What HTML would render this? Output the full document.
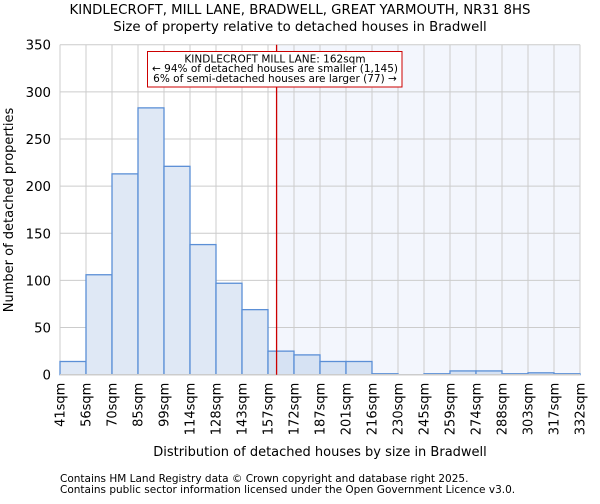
<!DOCTYPE html>
<html><head><meta charset="utf-8"><style>
body{margin:0;background:#fff;font-family:"DejaVu Sans","Liberation Sans",sans-serif;}
svg text{font-family:"DejaVu Sans","Liberation Sans",sans-serif;}
</style></head><body>
<svg id="chart" width="600" height="500" xmlns="http://www.w3.org/2000/svg">
<text x="300" y="14" text-anchor="middle" font-size="13.3">KINDLECROFT, MILL LANE, BRADWELL, GREAT YARMOUTH, NR31 8HS</text>
<text x="300" y="31" text-anchor="middle" font-size="13.3">Size of property relative to detached houses in Bradwell</text>
<g id="plot"></g>
<text x="320" y="456" text-anchor="middle" font-size="13">Distribution of detached houses by size in Bradwell</text>
<text transform="translate(13,210) rotate(-90)" text-anchor="middle" font-size="13">Number of detached properties</text>
<text x="60" y="482" font-size="10.5">Contains HM Land Registry data © Crown copyright and database right 2025.</text>
<text x="60" y="493" font-size="10.5">Contains public sector information licensed under the Open Government Licence v3.0.</text>
</svg>
<script>
const binLabels=["41sqm","56sqm","70sqm","85sqm","99sqm","114sqm","128sqm","143sqm","157sqm","172sqm","187sqm","201sqm","216sqm","230sqm","245sqm","259sqm","274sqm","288sqm","303sqm","317sqm","332sqm"];
const counts=[14,106,213,283,221,138,97,69,25,21,14,14,1,0,1,4,4,1,2,1];
const yTicks=[0,50,100,150,200,250,300,350];
const markerIndex=8.33;
const NS="http://www.w3.org/2000/svg";
const g=document.getElementById('plot');
const X0=60,X1=580,Y0=374.7,Y1=44.7,YMAX=350;
const n=counts.length;
const xs=i=>X0+(X1-X0)*i/n;
const ys=v=>Y0-(Y0-Y1)*v/YMAX;
function mk(t,a){const e=document.createElementNS(NS,t);for(const k in a)e.setAttribute(k,a[k]);g.appendChild(e);return e;}
const mx=xs(markerIndex);
let r=mk('rect',{x:mx,y:Y1,width:X1-mx,height:Y0-Y1,fill:'#f3f6fd'});


yTicks.forEach(v=>{
 let l=mk('line',{x1:X0,x2:X1,y1:ys(v),y2:ys(v),stroke:'#cccccc','stroke-width':1});
 
 
 let t=mk('text',{x:X0-9,y:ys(v)+5,'text-anchor':'end','font-size':'13.3'});
 t.textContent=v;
 
 
});
binLabels.forEach((lab,i)=>{
 let l=mk('line',{x1:xs(i),x2:xs(i),y1:Y1,y2:Y0,stroke:'#cccccc','stroke-width':1});
 
 
 let t=mk('text',{transform:`translate(${xs(i)+4.5},${Y0+8}) rotate(-90)`,'text-anchor':'end','font-size':'13'});
 t.textContent=lab;
 
 
});
counts.forEach((c,i)=>{
 if(c<=0)return;
 let b=mk('rect',{x:xs(i),y:ys(c),width:xs(i+1)-xs(i),height:Y0-ys(c),fill:i>=markerIndex-0.5?'#d6e2f3':'#dfe8f5',stroke:'#5b8fd6','stroke-width':1.3});
 
 
});
let ax=mk('line',{x1:X0,x2:X1,y1:Y0,y2:Y0,stroke:'#cccccc','stroke-width':1.5});


let ml=mk('line',{x1:mx,x2:mx,y1:Y1,y2:Y0,stroke:'#cc0000','stroke-width':1.3});


let box=mk('rect',{x:147.5,y:51.5,width:254.5,height:35.5,fill:'#fff',stroke:'#cc0000','stroke-width':1});


const ann=["KINDLECROFT MILL LANE: 162sqm","← 94% of detached houses are smaller (1,145)","6% of semi-detached houses are larger (77) →"];
ann.forEach((s,i)=>{
 let t=mk('text',{x:275,y:62.5+i*9.7,'text-anchor':'middle','font-size':'10.5'});
 t.textContent=s;
 
 
});
</script>
</body></html>
